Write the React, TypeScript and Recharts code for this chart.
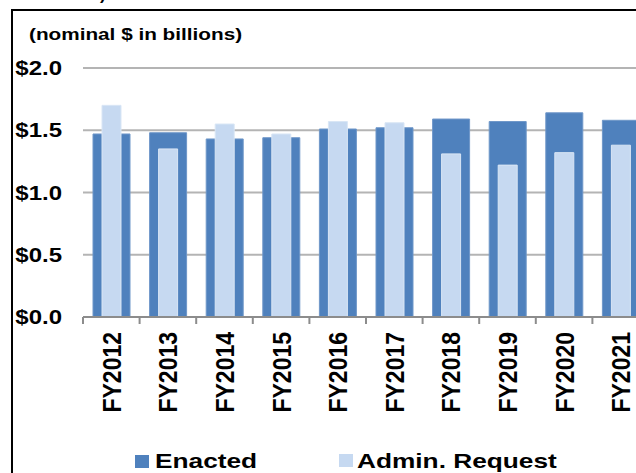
import { Bar, BarChart, CartesianGrid, XAxis, YAxis } from "recharts";

const years = ["FY2012", "FY2013", "FY2014", "FY2015", "FY2016", "FY2017", "FY2018", "FY2019", "FY2020", "FY2021"];
const enacted = [1.47, 1.48, 1.43, 1.44, 1.51, 1.52, 1.59, 1.57, 1.64, 1.58];
const request = [1.7, 1.35, 1.55, 1.47, 1.57, 1.56, 1.31, 1.22, 1.32, 1.38];
const yTicks = [0, 0.5, 1, 1.5, 2];
const seriesNames = ["Enacted", "Admin. Request"];
const title = "(nominal $ in billions)";

const DARK = "#4f81bd";
const LIGHT = "#c6d9f1";
const FONT = "'Liberation Sans', Arial, sans-serif";
const HALF_BAND = 28.3;

const data = years.map((year, i) => ({ year, enacted: enacted[i], request: request[i] }));

function XTick({ x, y, payload }: any) {
  return (
    <g>
      <line x1={x - HALF_BAND} x2={x - HALF_BAND} y1={y - 7} y2={y} stroke="#8c8c8c" strokeWidth={2} />
      <text
        transform={`translate(${x},${y + 8}) scale(1.15,1) rotate(-90)`}
        textAnchor="end"
        dy="0.36em"
        fontSize={23}
        fontWeight="bold"
        fontFamily={FONT}
        fill="#000"
      >
        {payload.value}
      </text>
    </g>
  );
}

function YTick({ y, payload }: any) {
  return (
    <text
      transform={`translate(62,${y}) scale(1.2,1)`}
      textAnchor="end"
      dy="0.36em"
      fontSize={20}
      fontWeight="bold"
      fontFamily={FONT}
      fill="#000"
    >
      ${payload.value.toFixed(1)}
    </text>
  );
}

export default function App() {
  return (
    <div style={{ position: "absolute", left: 0, top: 0, width: 636, height: 473, overflow: "hidden", background: "#fff" }}>
      <BarChart width={660} height={473} data={data} margin={{ top: 68, right: 11, left: 0, bottom: 0 }}>
        <CartesianGrid xAxisId="main" vertical={false} stroke="#b4b4b4" strokeWidth={2} />
        <XAxis
          xAxisId="main"
          dataKey="year"
          height={156}
          interval={0}
          tickSize={7}
          tickMargin={0}
          tickLine={false}
          axisLine={{ stroke: "#8c8c8c", strokeWidth: 2 }}
          tick={<XTick />}
        />
        <XAxis xAxisId="over" dataKey="year" hide />
        <YAxis width={83} domain={[0, 2]} ticks={yTicks} interval={0} axisLine={false} tickLine={false} tick={<YTick />} />
        <Bar xAxisId="main" dataKey="enacted" name={seriesNames[0]} fill={DARK} stroke="#6f97c9" strokeWidth={1} barSize={37} isAnimationActive={false} />
        <Bar xAxisId="over" dataKey="request" name={seriesNames[1]} fill={LIGHT} stroke="#d9e6f5" strokeWidth={1} barSize={19} isAnimationActive={false} />
      </BarChart>
      <svg width={636} height={473} style={{ position: "absolute", left: 0, top: 0, pointerEvents: "none" }} fontFamily={FONT} fontWeight="bold">
        <text x={100} y={0} fontSize={17} fill="#000">)</text>
        <line x1={11} x2={636} y1={10} y2={10} stroke="#000" strokeWidth={2} />
        <line x1={12} x2={12} y1={9} y2={473} stroke="#000" strokeWidth={2} />
        <text transform="translate(29,40) scale(1.22,1)" fontSize={17} fill="#000">{title}</text>
        <rect x={135} y={455} width={14} height={13} fill={DARK} />
        <text transform="translate(155,468) scale(1.25,1)" fontSize={21} fill="#000">{seriesNames[0]}</text>
        <rect x={339} y={454} width={14} height={13} fill={LIGHT} />
        <text transform="translate(357,468) scale(1.25,1)" fontSize={21} fill="#000">{seriesNames[1]}</text>
      </svg>
    </div>
  );
}
